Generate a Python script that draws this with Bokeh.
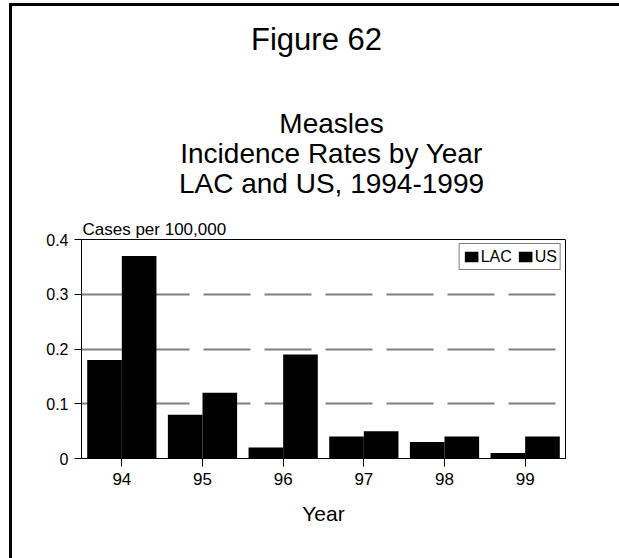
from bokeh.plotting import figure
from bokeh.layouts import column
from bokeh.models import (FactorRange, Range1d, FixedTicker, Title,
                          Legend, LegendItem, ColumnDataSource)
from bokeh.transform import dodge
from bokeh.core.properties import value
from bokeh.embed import file_html
from bokeh.resources import INLINE

# ---- data ----
years = ["94", "95", "96", "97", "98", "99"]
lac = [0.18, 0.08, 0.02, 0.04, 0.03, 0.01]
us = [0.37, 0.12, 0.19, 0.05, 0.04, 0.04]
y_ticks = [0, 0.1, 0.2, 0.3, 0.4]
y_tick_labels = ["0", "0.1", "0.2", "0.3", "0.4"]
grid_levels = [0.1, 0.2, 0.3]
series_names = ["LAC", "US"]
heading = "Figure 62"
subtitle_lines = ["Measles", "Incidence Rates by Year", "LAC and US, 1994-1999"]
y_caption = "Cases per 100,000"
x_caption = "Year"

FONT = "Liberation Sans"
W = 619
H_TOP = 214
H_BOT = 558 - H_TOP
FRAME_L, FRAME_R = 81, 565

# ---------- heading panel (page-pixel coordinates) ----------
t = figure(width=W, height=H_TOP, x_range=Range1d(FRAME_L, FRAME_R), y_range=Range1d(H_TOP, 0),
           x_axis_type=None, y_axis_type=None, output_backend="svg",
           toolbar_location=None, title=None,
           min_border_left=FRAME_L, min_border_right=W - FRAME_R,
           min_border_top=0, min_border_bottom=0)
t.outline_line_color = None
t.background_fill_alpha = 0
t.border_fill_alpha = 0

t.text(x=[316], y=[39], text=[heading], text_font=value(FONT), text_font_size="31px",
       text_align="center", text_baseline="alphabetic", text_color="black")
t.text(x=[331, 331, 331], y=[123, 153, 183], text=subtitle_lines, text_font=value(FONT),
       text_font_size="28px", text_align="center", text_baseline="alphabetic",
       text_color="black")

# ---------- chart ----------
source = ColumnDataSource(data=dict(year=years, lac=lac, us=us))

p = figure(width=W, height=H_BOT, x_range=FactorRange(*years, range_padding=0),
           y_range=Range1d(0, 0.4), output_backend="svg", toolbar_location=None,
           min_border_left=FRAME_L, min_border_right=W - FRAME_R,
           min_border_top=25, min_border_bottom=100)
p.title = Title(text=y_caption, align="left", offset=1, standoff=2,
                text_font=FONT, text_font_size="17px", text_font_style="normal",
                text_color="black")
p.background_fill_color = "white"
p.border_fill_alpha = 0
p.outline_line_color = "black"
p.outline_line_width = 1

p.xgrid.visible = False
p.ygrid.ticker = FixedTicker(ticks=grid_levels)
p.ygrid.grid_line_color = "#808080"
p.ygrid.grid_line_width = 2
p.ygrid.grid_line_dash = "47 14"

r_lac = p.vbar(x=dodge("year", -0.2146, range=p.x_range), top="lac", width=0.4293,
               source=source, fill_color="black", line_color=None)
r_us = p.vbar(x=dodge("year", 0.2146, range=p.x_range), top="us", width=0.4293,
              source=source, fill_color="black", line_color=None)

ya = p.yaxis[0]
ya.ticker = FixedTicker(ticks=y_ticks)
ya.major_label_overrides = dict(zip(y_ticks, y_tick_labels))
ya.axis_line_color = "black"
ya.major_tick_line_color = "black"
ya.major_tick_out = 7
ya.major_tick_in = 0
ya.minor_tick_line_color = None
ya.major_label_text_font = FONT
ya.major_label_text_font_size = "16px"
ya.major_label_text_color = "black"
ya.major_label_standoff = 6

xa = p.xaxis[0]
xa.axis_line_color = "black"
xa.major_tick_line_color = "black"
xa.major_tick_out = 8
xa.major_tick_in = 0
xa.minor_tick_line_color = None
xa.major_label_text_font = FONT
xa.major_label_text_font_size = "17px"
xa.major_label_text_color = "black"
xa.major_label_standoff = 6
xa.axis_label = x_caption
xa.axis_label_text_font = FONT
xa.axis_label_text_font_size = "21px"
xa.axis_label_text_font_style = "normal"
xa.axis_label_text_color = "black"
xa.axis_label_standoff = 14

legend = Legend(items=[LegendItem(label=series_names[0], renderers=[r_lac]),
                       LegendItem(label=series_names[1], renderers=[r_us])],
                location="top_right", orientation="horizontal")
legend.border_line_color = "black"
legend.border_line_width = 1
legend.background_fill_color = "white"
legend.background_fill_alpha = 1
legend.padding = 3
legend.spacing = 5
legend.margin = 4
legend.glyph_width = 17
legend.glyph_height = 13
legend.label_standoff = 1
legend.label_height = 19
legend.label_text_font = FONT
legend.label_text_font_size = "16px"
legend.label_text_color = "black"
p.add_layout(legend)

layout = column(t, p, spacing=0)
# page border (left and top edges of the original page)
layout.styles = {"background-image": "linear-gradient(#000000, #000000), linear-gradient(#000000, #000000)",
                 "background-size": "3px 100%, 100% 3px",
                 "background-position": "9px 3px, 9px 3px",
                 "background-repeat": "no-repeat", "background-color": "white"}
open("out.html", "w").write(file_html(layout, INLINE))
